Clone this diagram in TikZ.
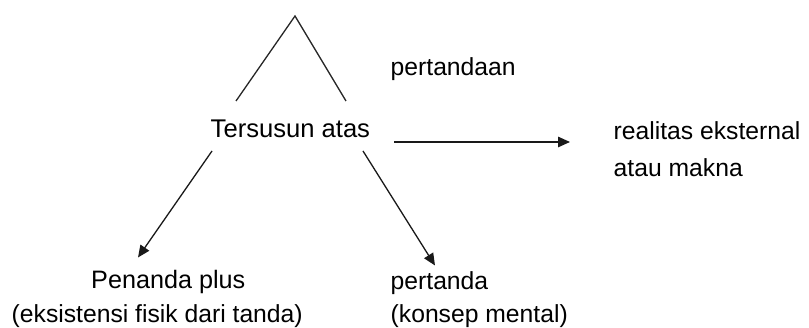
\documentclass[tikz,border=0pt]{standalone}
\usepackage{fontspec}
\setmainfont{Liberation Sans}
\usetikzlibrary{arrows.meta,calc}
\tikzset{
  lbl/.style={anchor=base west, inner sep=0pt, font=\fontsize{24.7}{30}\selectfont, text=black},
  leg/.style={draw=black!85, line width=1.3pt},
  arr/.style={draw=black!90, line width=1.3pt, -{Triangle[length=12pt,width=10.5pt]}}
}
\begin{document}
\begin{tikzpicture}[x=1pt,y=-1pt]
\useasboundingbox (0,0) rectangle (809,328);
\node[lbl, font=\fontsize{25.6}{30}\selectfont] (tersusun) at (210.5,138) {Tersusun atas};
\node[lbl] (pertandaan) at (390.5,75.7) {pertandaan};
\node[lbl] (real1) at (613.5,140) {realitas eksternal};
\node[lbl] (real2) at (613.5,176.7) {atau makna};
\node[lbl, font=\fontsize{25.2}{30}\selectfont] (pen1) at (91,289) {Penanda plus};
\node[lbl] (pen2) at (11.5,323) {(eksistensi fisik dari tanda)};
\node[lbl] (pert1) at (390.5,289.5) {pertanda};
\node[lbl] (pert2) at (390.5,323) {(konsep mental)};
\coordinate (apex) at (295,16);
% triangle legs
\draw[leg] ($(tersusun.base west)+(25.5,-37)$) -- (apex) -- ($(tersusun.base west)+(135.5,-37)$);
% arrows
\draw[arr] ($(tersusun.base west)+(1.5,13)$) -- ($(pen1.base west)+(47,-31.5)$);
\draw[arr] ($(tersusun.base west)+(152.5,13)$) -- ($(pert1.base west)+(44.5,-24)$);
\draw[arr] ($(tersusun.base west)+(183.5,4)$) -- ($(real1.base west)+(-43.5,2)$);
\end{tikzpicture}
\end{document}
